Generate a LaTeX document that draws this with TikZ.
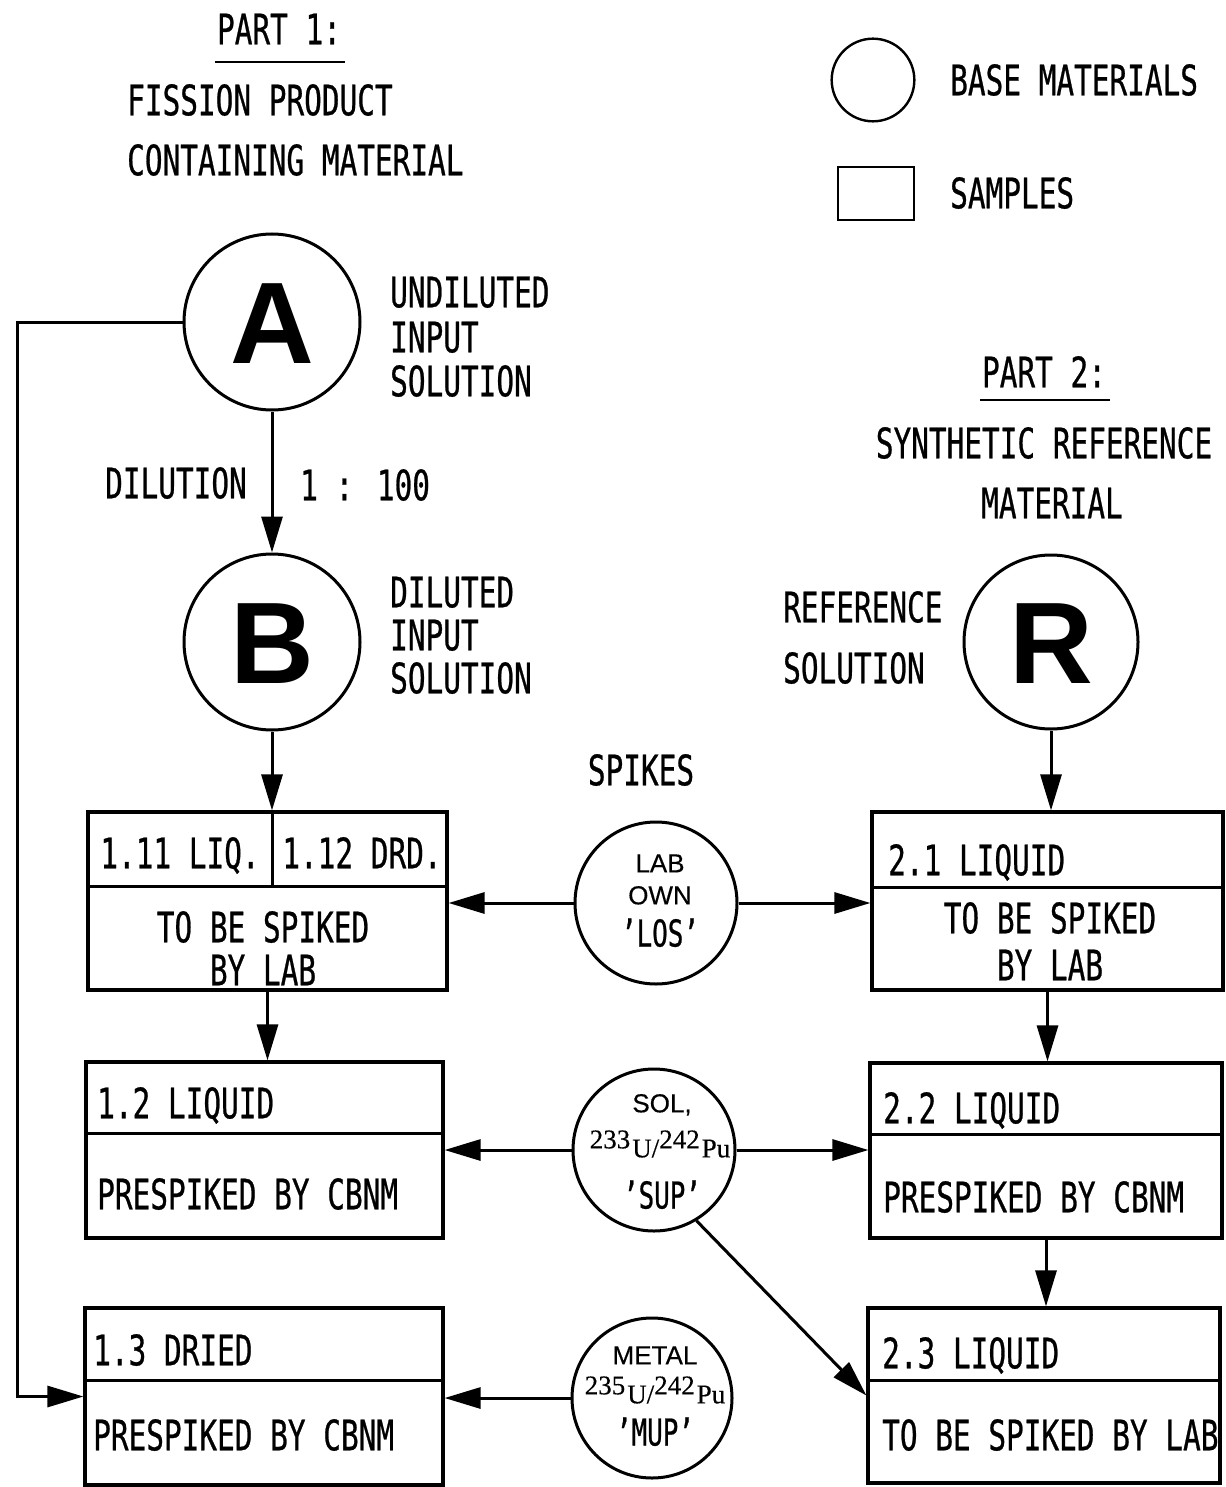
\documentclass[tikz,border=0pt]{standalone}
\usepackage{fontspec}
\setmainfont{DejaVu Sans Mono}[FakeStretch=0.7,FakeBold=0.6]
\newfontfamily\bigsans{Liberation Sans}
\newfontfamily\smallsans{Liberation Sans}[FakeBold=0.4]
\newfontfamily\isoserif{Liberation Serif}[FakeBold=0.4]
\usetikzlibrary{arrows.meta}
\tikzset{
  txt/.style={inner sep=0pt, font=\fontsize{42}{48}\selectfont, text height=30.6pt, text depth=0pt},
  sm/.style={inner sep=0pt, font=\smallsans\fontsize{26}{30}\selectfont, text height=18.6pt, text depth=0pt},
  tag/.style={inner sep=0pt, font=\fontsize{37}{42}\selectfont, text height=27pt, text depth=0pt},
  iso/.style={inner sep=0pt, font=\isoserif\fontsize{27}{30}\selectfont},
  base/.style={circle, draw, line width=3pt, inner sep=0pt, font=\bigsans\bfseries\fontsize{116}{120}\selectfont, text height=83pt, text depth=0pt},
  sample/.style={rectangle, draw, line width=3.2pt, inner sep=0pt},
  arr/.style={line width=3pt, -{Triangle[length=36pt,width=21pt]}},
  ln/.style={line width=3pt},
  uline/.style={line width=2pt}
}
\newcommand{\isoline}[1]{\raisebox{9pt}{#1}\kern2pt U/\raisebox{9pt}{242}\kern2pt Pu}
\begin{document}
\begin{tikzpicture}[x=1pt,y=-1pt]
\useasboundingbox (0,0) rectangle (1225,1487);

% ---- Part 1 title
\node[txt] (part1) at (279,29) {PART 1:};
\draw[uline] ([shift={(-2pt,-18pt)}]part1.south west) -- ([shift={(4pt,-18pt)}]part1.south east);
\node[txt, anchor=west] (fission) at (127,100) {FISSION PRODUCT};
\node[txt, anchor=west] (containing) at (127,160) {CONTAINING MATERIAL};

% ---- Legend
\node[base, minimum size=70pt, line width=2.4pt] (legcirc) at (873,80) {};
\node[txt, anchor=west] (legbase) at (950,80) {BASE MATERIALS};
\node[sample, minimum width=76pt, minimum height=53pt, line width=2.6pt] (legrect) at (876,193.5) {};
\node[txt, anchor=west] (legsamples) at (950,193) {SAMPLES};

% ---- Base materials
\node[base, minimum size=176pt] (A) at (272,322) {A};
\node[txt, anchor=west] (undil1) at (390,292) {UNDILUTED};
\node[txt, anchor=west] (undil2) at (390,337) {INPUT};
\node[txt, anchor=west] (undil3) at (390,381) {SOLUTION};

\node[txt, anchor=east] (dilution) at (247,483) {DILUTION};
\node[txt, anchor=west] (ratio) at (300,485) {1 : 100};

\node[base, minimum size=176pt] (B) at (272,642) {B};
\node[txt, anchor=west] (dil1) at (390,592) {DILUTED};
\node[txt, anchor=west] (dil2) at (390,635) {INPUT};
\node[txt, anchor=west] (dil3) at (390,678) {SOLUTION};

% ---- Part 2 title
\node[txt] (part2) at (1044,372) {PART 2:};
\draw[uline] ([shift={(-2pt,-12pt)}]part2.south west) -- ([shift={(4pt,-12pt)}]part2.south east);
\node[txt] (synthetic) at (1044,443) {SYNTHETIC REFERENCE};
\node[txt] (material) at (1052,503) {MATERIAL};

\node[txt, anchor=west] (ref1) at (783,607) {REFERENCE};
\node[txt, anchor=west] (ref2) at (783,668) {SOLUTION};
\node[base, minimum size=174pt] (R) at (1051,642) {R};

\node[txt] (spikes) at (641,770) {SPIKES};

% ---- Samples, part 1
\node[sample, minimum width=359pt, minimum height=178pt] (b11) at (267.5,901) {};
\coordinate (d11) at ([yshift=-76pt]b11.north);
\draw[ln] (d11 -| b11.west) -- (d11 -| b11.east);
\draw[ln] (b11.north -| B) -- (d11 -| B);
\node[txt] (t111) at (180,853) {1.11 LIQ.};
\node[txt] (t112) at (362,853) {1.12 DRD.};
\node[txt] (t11a) at (263,927) {TO BE SPIKED};
\node[txt] (t11b) at (263,970) {BY LAB};

\node[sample, minimum width=357pt, minimum height=176pt] (b12) at (264.5,1150) {};
\coordinate (d12) at ([yshift=-73pt]b12.north);
\draw[ln] (d12 -| b12.west) -- (d12 -| b12.east);
\node[txt, anchor=west] (t12a) at (97,1103) {1.2 LIQUID};
\node[txt, anchor=west] (t12b) at (97,1194) {PRESPIKED BY CBNM};

\node[sample, minimum width=358pt, minimum height=177pt] (b13) at (264,1396.5) {};
\coordinate (d13) at ([yshift=-74pt]b13.north);
\draw[ln] (d13 -| b13.west) -- (d13 -| b13.east);
\node[txt, anchor=west] (t13a) at (93,1350) {1.3 DRIED};
\node[txt, anchor=west] (t13b) at (93,1435) {PRESPIKED BY CBNM};

% ---- Samples, part 2
\node[sample, minimum width=351pt, minimum height=178pt] (b21) at (1047.5,901) {};
\coordinate (d21) at ([yshift=-77pt]b21.north);
\draw[ln] (d21 -| b21.west) -- (d21 -| b21.east);
\node[txt, anchor=west] (t21a) at (888,860) {2.1 LIQUID};
\node[txt] (t21b) at (1050,918) {TO BE SPIKED};
\node[txt] (t21c) at (1050,965) {BY LAB};

\node[sample, minimum width=352pt, minimum height=175pt] (b22) at (1046,1150.5) {};
\coordinate (d22) at ([yshift=-73pt]b22.north);
\draw[ln] (d22 -| b22.west) -- (d22 -| b22.east);
\node[txt, anchor=west] (t22a) at (883,1108) {2.2 LIQUID};
\node[txt, anchor=west] (t22b) at (883,1197) {PRESPIKED BY CBNM};

\node[sample, minimum width=352pt, minimum height=175pt] (b23) at (1044,1395.5) {};
\coordinate (d23) at ([yshift=-74pt]b23.north);
\draw[ln] (d23 -| b23.west) -- (d23 -| b23.east);
\node[txt, anchor=west] (t23a) at (882,1353) {2.3 LIQUID};
\node[txt, anchor=west] (t23b) at (882,1435) {TO BE SPIKED BY LAB};

% ---- Spikes
\node[base, minimum size=162pt] (LOS) at (656,903) {};
\node[sm] (los1) at (660,863) {LAB};
\node[sm] (los2) at (660,895) {OWN};
\node[tag] (los3) at (660,933) {'LOS'};

\node[base, minimum size=162pt] (SUP) at (654,1150) {};
\node[sm] (sup1) at (662,1103) {SOL,};
\node[iso] (sup2) at (660,1144) {\isoline{233}};
\node[tag] (sup3) at (662,1195) {'SUP'};

\node[base, minimum size=160pt] (MUP) at (652,1398) {};
\node[sm] (mup1) at (655,1355) {METAL};
\node[iso] (mup2) at (655,1390) {\isoline{235}};
\node[tag] (mup3) at (655,1432) {'MUP'};

% ---- Connectors
\coordinate (Lc) at (17,322);
\draw[arr] (A.west) -- (Lc) |- (b13.west);
\draw[arr] (A.south) -- (B.north);
\draw[arr] (B.south) -- (B.south |- b11.north);
\draw[arr] (b11.south) -- (b11.south |- b12.north);
\draw[arr] (R.south) -- (R.south |- b21.north);
\draw[arr] (b21.south) -- (b21.south |- b22.north);
\draw[arr] (b22.south) -- (b22.south |- b23.north);

\draw[arr] (LOS.west) -- (LOS.west -| b11.east);
\draw[arr] (LOS.east) -- (LOS.east -| b21.west);
\draw[arr] (SUP.west) -- (SUP.west -| b12.east);
\draw[arr] (SUP.east) -- (SUP.east -| b22.west);
\draw[arr] (SUP.-59) -- (b23.west);
\draw[arr] (MUP.west) -- (MUP.west -| b13.east);
\end{tikzpicture}
\end{document}
